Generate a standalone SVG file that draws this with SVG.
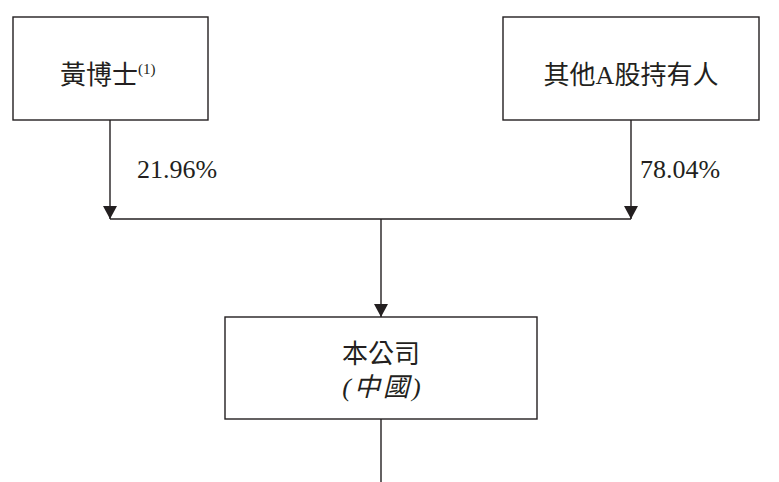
<svg xmlns="http://www.w3.org/2000/svg" width="779" height="482" viewBox="0 0 779 482">
<style>
.box{fill:#fff;stroke:#231f20;stroke-width:1.4}
.ln{fill:none;stroke:#231f20;stroke-width:1.4}
.t{font-family:"Liberation Serif","Noto Sans CJK TC",serif;font-size:26px;fill:#231f20}
.c{text-anchor:middle}
.sup{font-size:15px}
</style>
<defs>
<marker id="ah" markerUnits="userSpaceOnUse" markerWidth="14" markerHeight="14" viewBox="0 0 14 14" refX="13" refY="7" orient="auto">
<path d="M0,0 L13,7 L0,14 Z" fill="#231f20"/>
</marker>
</defs>
<g id="node-huang">
<rect class="box" x="13" y="17" width="195" height="103"/>
<text class="t" x="60" y="84">黃博士<tspan class="sup" dy="-10">(1)</tspan></text>
</g>
<g id="node-other">
<rect class="box" x="503" y="17" width="256" height="103"/>
<text class="t c" x="631" y="84">其他A股持有人</text>
</g>
<g id="node-company">
<rect class="box" x="225" y="317" width="312" height="102"/>
<text class="t c" x="381" y="363">本公司</text>
<text class="t c" x="383" y="396" font-style="italic" letter-spacing="3">(中國)</text>
</g>
<g id="connectors">
<path class="ln" d="M110,120 V219" marker-end="url(#ah)"/>
<path class="ln" d="M631,120 V219" marker-end="url(#ah)"/>
<path class="ln" d="M110,219 H631"/>
<path class="ln" d="M381,219 V317" marker-end="url(#ah)"/>
<path class="ln" d="M381,419 V482"/>
<text class="t" x="137" y="178">21.96%</text>
<text class="t" x="640" y="178">78.04%</text>
</g>
</svg>
